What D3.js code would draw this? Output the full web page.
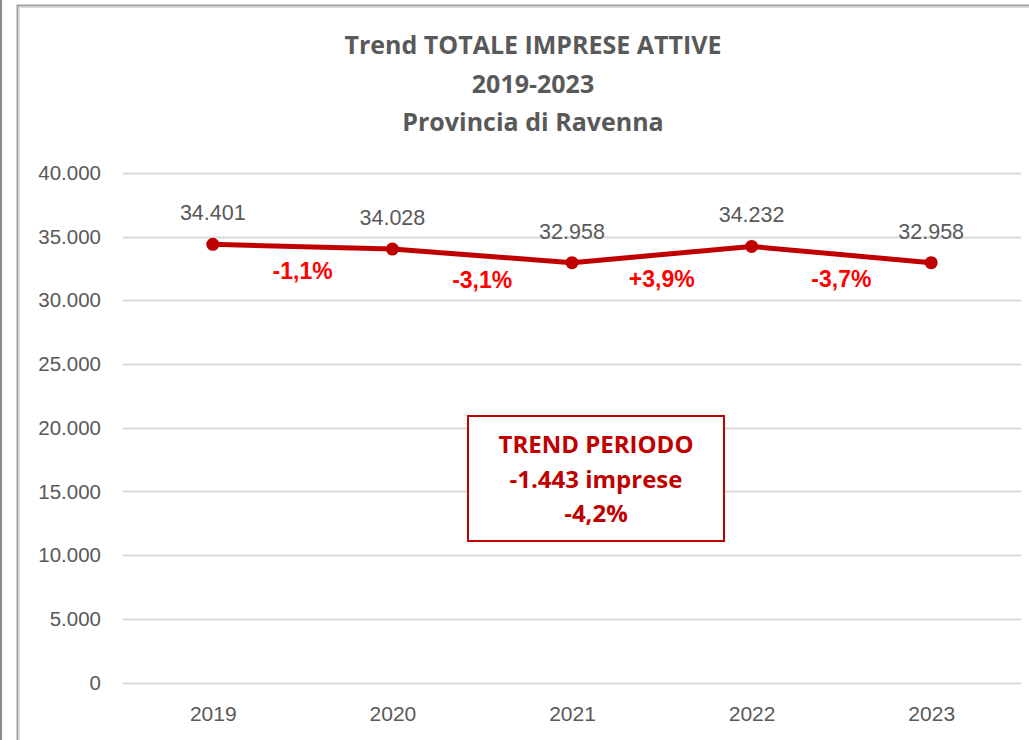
<!DOCTYPE html>
<html>
<head>
<meta charset="utf-8">
<script src="https://cdn.jsdelivr.net/npm/d3@7"></script>
<style>
  body { margin: 0; background: #fff; }
  svg { display: block; }
</style>
</head>
<body>
<div id="chart"></div>
<script>
// data
const years = ["2019", "2020", "2021", "2022", "2023"];
const imprese = [34401, 34028, 32958, 34232, 32958];
const varLabels = ["-1,1%", "-3,1%", "+3,9%", "-3,7%"];
const yTicks = [0, 5000, 10000, 15000, 20000, 25000, 30000, 35000, 40000];
const titleLines = ["Trend TOTALE IMPRESE ATTIVE", "2019-2023", "Provincia di Ravenna"];
const boxLines = ["TREND PERIODO", "-1.443 imprese", "-4,2%"];

const width = 1029;
const height = 740;
const margin = {top: 173, right: 8, bottom: 58, left: 123};

const fmt = d3.formatLocale({decimal: ",", thousands: ".", grouping: [3], currency: ["€", ""]}).format(",");

const svg = d3.select("#chart")
    .append("svg")
    .attr("width", width)
    .attr("height", height);

// outer borders
svg.append("line")
    .attr("x1", 1).attr("x2", 1).attr("y1", 0).attr("y2", height)
    .attr("stroke", "#8c8c8c").attr("stroke-width", 2);
svg.append("rect")
    .attr("x", 17.5).attr("y", 5.5)
    .attr("width", width + 20).attr("height", height + 20)
    .attr("fill", "none").attr("stroke", "#a0a0a0").attr("stroke-width", 2);
svg.append("rect")
    .attr("x", 19.5).attr("y", 7.5)
    .attr("width", width + 20).attr("height", height + 20)
    .attr("fill", "none").attr("stroke", "#dcdcdc").attr("stroke-width", 1);

const x = d3.scalePoint()
    .domain(years)
    .range([margin.left, 1021])
    .padding(0.5);

const y = d3.scaleLinear()
    .domain([0, 40000])
    .range([682.5, margin.top]);

// title
svg.append("g").selectAll("text")
    .data(titleLines)
    .enter().append("text")
    .attr("x", 533)
    .attr("y", (d, i) => 54 + i * 38.5)
    .attr("text-anchor", "middle")
    .attr("font-family", "'Open Sans', sans-serif")
    .attr("font-weight", "bold")
    .attr("font-size", 25)
    .attr("fill", "#595959")
    .text(d => d);

// gridlines
svg.append("g").selectAll("line")
    .data(yTicks)
    .enter().append("line")
    .attr("x1", margin.left).attr("x2", 1021)
    .attr("y1", d => Math.round(y(d)) + 0.5)
    .attr("y2", d => Math.round(y(d)) + 0.5)
    .attr("stroke", "#d9d9d9")
    .attr("stroke-width", 2);

// y axis labels
const yAxis = d3.axisLeft(y).tickValues(yTicks).tickFormat(fmt).tickSize(0).tickPadding(0);
svg.append("g")
    .attr("transform", "translate(101,0)")
    .call(yAxis)
    .call(g => g.select(".domain").remove())
    .selectAll("text")
    .attr("font-family", "'Liberation Sans', Arial, sans-serif")
    .attr("font-size", 20.5)
    .attr("fill", "#595959");

// x axis labels
const xAxis = d3.axisBottom(x).tickSize(0).tickPadding(0);
svg.append("g")
    .attr("transform", "translate(0,706)")
    .call(xAxis)
    .call(g => g.select(".domain").remove())
    .selectAll("text")
    .attr("font-family", "'Liberation Sans', Arial, sans-serif")
    .attr("font-size", 21)
    .attr("fill", "#595959");

const pts = years.map((yr, i) => ({year: yr, value: imprese[i]}));

// line
svg.append("path")
    .datum(pts)
    .attr("fill", "none")
    .attr("stroke", "#c00000")
    .attr("stroke-width", 5)
    .attr("stroke-linejoin", "round")
    .attr("d", d3.line().x(d => x(d.year)).y(d => y(d.value)));

svg.append("g").selectAll("circle")
    .data(pts)
    .enter().append("circle")
    .attr("cx", d => x(d.year))
    .attr("cy", d => y(d.value))
    .attr("r", 6.5)
    .attr("fill", "#c00000");

// value labels
svg.append("g").selectAll("text")
    .data(pts)
    .enter().append("text")
    .attr("x", d => x(d.year))
    .attr("y", d => y(d.value) - 24)
    .attr("text-anchor", "middle")
    .attr("font-family", "'Liberation Sans', Arial, sans-serif")
    .attr("font-size", 21.5)
    .attr("fill", "#595959")
    .text(d => fmt(d.value));

// variation labels
svg.append("g").selectAll("text")
    .data(varLabels)
    .enter().append("text")
    .attr("x", (d, i) => (x(years[i]) + x(years[i + 1])) / 2)
    .attr("y", (d, i) => (y(imprese[i]) + y(imprese[i + 1])) / 2 + 32)
    .attr("text-anchor", "middle")
    .attr("font-family", "'Liberation Sans', Arial, sans-serif")
    .attr("font-weight", "bold")
    .attr("font-size", 23)
    .attr("fill", "#ff0000")
    .text(d => d);

// trend box
const box = svg.append("g");
box.append("rect")
    .attr("x", 468).attr("y", 416)
    .attr("width", 256).attr("height", 125)
    .attr("fill", "#fff")
    .attr("stroke", "#c00000")
    .attr("stroke-width", 2);
box.selectAll("text")
    .data(boxLines)
    .enter().append("text")
    .attr("x", 596)
    .attr("y", (d, i) => 453 + i * 34.5)
    .attr("text-anchor", "middle")
    .attr("font-family", "'Open Sans', sans-serif")
    .attr("font-weight", "bold")
    .attr("font-size", 24)
    .attr("fill", "#c00000")
    .text(d => d);
</script>
</body>
</html>
